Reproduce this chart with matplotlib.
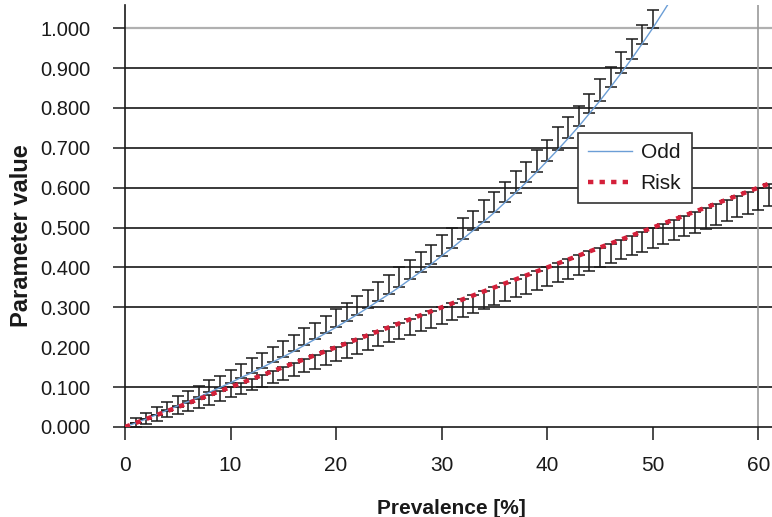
import matplotlib
matplotlib.use("Agg")
import matplotlib.pyplot as plt

# ---- data ----
prevalence_odd = list(range(0, 53))
odd_values = [0.000, 0.010, 0.020, 0.031, 0.042, 0.053, 0.064, 0.075, 0.087, 0.099,
              0.111, 0.124, 0.136, 0.149, 0.163, 0.176, 0.190, 0.205, 0.220, 0.235,
              0.250, 0.266, 0.282, 0.299, 0.316, 0.333, 0.351, 0.370, 0.389, 0.408,
              0.429, 0.449, 0.471, 0.493, 0.515, 0.538, 0.563, 0.587, 0.613, 0.639,
              0.667, 0.695, 0.724, 0.754, 0.786, 0.818, 0.852, 0.887, 0.923, 0.961,
              1.000, 1.041, 1.083]
prevalence_risk = list(range(0, 63))
risk_values = [0.00, 0.01, 0.02, 0.03, 0.04, 0.05, 0.06, 0.07, 0.08, 0.09,
               0.10, 0.11, 0.12, 0.13, 0.14, 0.15, 0.16, 0.17, 0.18, 0.19,
               0.20, 0.21, 0.22, 0.23, 0.24, 0.25, 0.26, 0.27, 0.28, 0.29,
               0.30, 0.31, 0.32, 0.33, 0.34, 0.35, 0.36, 0.37, 0.38, 0.39,
               0.40, 0.41, 0.42, 0.43, 0.44, 0.45, 0.46, 0.47, 0.48, 0.49,
               0.50, 0.51, 0.52, 0.53, 0.54, 0.55, 0.56, 0.57, 0.58, 0.59,
               0.60, 0.61, 0.62]

# upper error bars on Odd (p = 1..50)
odd_err_x = list(range(1, 51))
odd_err_up = [0.012, 0.015, 0.018, 0.020, 0.024, 0.026, 0.028, 0.030, 0.030, 0.032,
              0.033, 0.036, 0.037, 0.038, 0.040, 0.041, 0.042, 0.040, 0.044, 0.045,
              0.044, 0.046, 0.045, 0.048, 0.047, 0.050, 0.048, 0.050, 0.049, 0.052,
              0.050, 0.052, 0.048, 0.053, 0.052, 0.050, 0.054, 0.052, 0.055, 0.052,
              0.056, 0.054, 0.052, 0.048, 0.055, 0.050, 0.052, 0.050, 0.048, 0.045]
# lower error bars on Risk (p = 1..61)
risk_err_x = list(range(1, 62))
risk_err_down = [0.010, 0.012, 0.014, 0.016, 0.018, 0.020, 0.022, 0.024, 0.025, 0.026,
                 0.027, 0.028, 0.030, 0.030, 0.031, 0.032, 0.033, 0.034, 0.034, 0.035,
                 0.036, 0.036, 0.037, 0.038, 0.038, 0.039, 0.040, 0.040, 0.041, 0.042,
                 0.042, 0.043, 0.043, 0.044, 0.044, 0.045, 0.045, 0.046, 0.046, 0.047,
                 0.047, 0.048, 0.048, 0.049, 0.049, 0.050, 0.050, 0.050, 0.051, 0.051,
                 0.052, 0.052, 0.052, 0.053, 0.053, 0.054, 0.054, 0.054, 0.055, 0.055, 0.055]

y_ticks = [0.0, 0.1, 0.2, 0.3, 0.4, 0.5, 0.6, 0.7, 0.8, 0.9, 1.0]
y_tick_labels = ["0.000", "0.100", "0.200", "0.300", "0.400", "0.500",
                 "0.600", "0.700", "0.800", "0.900", "1.000"]
grid_values = [0.1, 0.3, 0.4, 0.5, 0.6, 0.7, 0.8, 0.9]
x_ticks = [0, 10, 20, 30, 40, 50, 60]

# ---- figure ----
plt.rcParams['font.family'] = ['Liberation Sans', 'DejaVu Sans']
fig = plt.figure(figsize=(7.72, 5.17), dpi=100)
ax = fig.add_axes([125/772, (517-427)/517, (772-125)/772, (427-5)/517])
ax.set_xlim(0, 61.3)
ax.set_ylim(0, 1.058)

for g in grid_values:
    ax.axhline(g, color='#2a2a2a', lw=1.3, zorder=1)
ax.axhline(1.0, color='#b0b0b0', lw=1.6, zorder=1)
ax.axvline(60, color='#9a9a9a', lw=1.2, zorder=1)

odd_err_base = [odd_values[p] for p in odd_err_x]
ax.errorbar(odd_err_x, odd_err_base, yerr=[[0]*len(odd_err_x), odd_err_up],
            fmt='none', ecolor='#1a1a1a', elinewidth=1.1, capsize=4.5,
            capthick=1.1, zorder=3)
risk_err_base = [risk_values[p] for p in risk_err_x]
ax.errorbar(risk_err_x, risk_err_base, yerr=[risk_err_down, [0]*len(risk_err_x)],
            fmt='none', ecolor='#1a1a1a', elinewidth=1.1, capsize=4.5,
            capthick=1.1, zorder=3)

l_odd, = ax.plot(prevalence_odd, odd_values, color='#6b9ed6', lw=1.0, zorder=4,
                 label='Odd')
l_risk, = ax.plot(prevalence_risk, risk_values, color='#d4203a', lw=3.2,
                  linestyle=(0, (1.2, 1.4)), zorder=5, label='Risk')

ax.set_xticks(x_ticks)
ax.set_xticklabels([str(v) for v in x_ticks])
ax.set_yticks(y_ticks)
ax.set_yticklabels(y_tick_labels)
for t, v in zip(ax.yaxis.get_major_ticks(), y_ticks):
    if abs(v - 0.2) < 1e-9:
        t.tick1line.set_visible(False)
ax.tick_params(axis='y', direction='out', length=9, width=1.1, labelsize=14.5,
               pad=16, colors='#1a1a1a')
ax.tick_params(axis='x', direction='out', length=9, width=1.1, labelsize=15,
               pad=12, colors='#1a1a1a')

for s in ['top', 'right']:
    ax.spines[s].set_visible(False)
ax.spines['left'].set_color('#1a1a1a')
ax.spines['left'].set_linewidth(1.2)
ax.spines['bottom'].set_color('#1a1a1a')
ax.spines['bottom'].set_linewidth(1.2)

fig.text(451/772, 1 - 509/517, 'Prevalence [%]', ha='center', va='center',
         fontsize=15, fontweight='bold', color='#1a1a1a')
fig.text(22/772, 1 - 236/517, 'Parameter value', ha='center', va='center',
         rotation=90, fontsize=17, fontweight='bold', color='#1a1a1a')

leg = ax.legend(handles=[l_odd, l_risk], loc='upper left',
                bbox_to_anchor=(578/772, 1 - 133/517), bbox_transform=fig.transFigure,
                fontsize=15, frameon=True, fancybox=False, framealpha=1,
                edgecolor='#333333', handlelength=2.1, handletextpad=0.4,
                borderpad=0.5, labelspacing=0.55, borderaxespad=0)
leg.get_frame().set_linewidth(1.2)
for t in leg.get_texts():
    t.set_color('#1a1a1a')

fig.savefig('out.png', dpi=100)
